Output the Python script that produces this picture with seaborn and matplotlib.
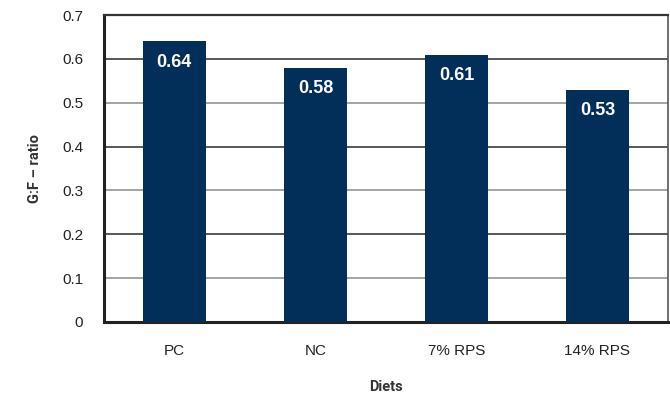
import matplotlib
matplotlib.use("Agg")
import matplotlib.pyplot as plt
import seaborn as sns
import pandas as pd

diets = ["PC", "NC", "7% RPS", "14% RPS"]
gf_ratio = [0.64, 0.58, 0.61, 0.53]
y_ticks = [0, 0.1, 0.2, 0.3, 0.4, 0.5, 0.6, 0.7]
y_tick_labels = ["0", "0.1", "0.2", "0.3", "0.4", "0.5", "0.6", "0.7"]

df = pd.DataFrame({"Diets": diets, "ratio": gf_ratio})

sns.set_theme(style="white")
plt.rcParams["font.family"] = ["Liberation Sans", "DejaVu Sans"]

fig = plt.figure(figsize=(6.7, 3.98), dpi=100)
ax = fig.add_axes([0.155, 0.191, 0.842, 0.771])

bar_color = "#022f5a"
sns.barplot(data=df, x="Diets", y="ratio", color=bar_color, width=0.45,
            saturation=1, linewidth=0, ax=ax, zorder=3)

ax.set_ylim(0, 0.7)
ax.set_xlim(-0.5, 3.5)
ax.set_yticks(y_ticks)
ax.set_yticklabels(y_tick_labels)

# horizontal gridlines, alternating dark and grey
for i, t in enumerate(y_ticks[1:-1], start=1):
    ax.axhline(t, color="#2a2a2a" if i % 2 == 0 else "#8a8a8a",
               lw=1.1, zorder=1)

for p, v in zip(ax.patches, gf_ratio):
    ax.annotate(f"{v:.2f}", (p.get_x() + p.get_width() / 2, p.get_height()),
                xytext=(0, -15), textcoords="offset points",
                ha="center", va="center", color="white",
                fontsize=13, fontweight="bold", zorder=4)

for side in ["left", "bottom"]:
    ax.spines[side].set_color("#222222")
    ax.spines[side].set_linewidth(2.2)
ax.spines["top"].set_color("#333333")
ax.spines["top"].set_linewidth(1.6)
ax.spines["right"].set_color("#555555")
ax.spines["right"].set_linewidth(1.2)

ax.tick_params(axis="y", length=0, pad=15, labelsize=11, colors="#222222")
ax.tick_params(axis="x", length=0, pad=16, labelsize=11, colors="#222222")

ax.set_xlabel("Diets", fontsize=10.5, fontweight="bold", color="#333333",
              family=["Roboto", "DejaVu Sans"], labelpad=16)
ax.set_ylabel("G:F – ratio", fontsize=10.5, fontweight="bold", color="#333333",
              family=["Roboto", "DejaVu Sans"], labelpad=14)

fig.savefig("out.png", dpi=100)
